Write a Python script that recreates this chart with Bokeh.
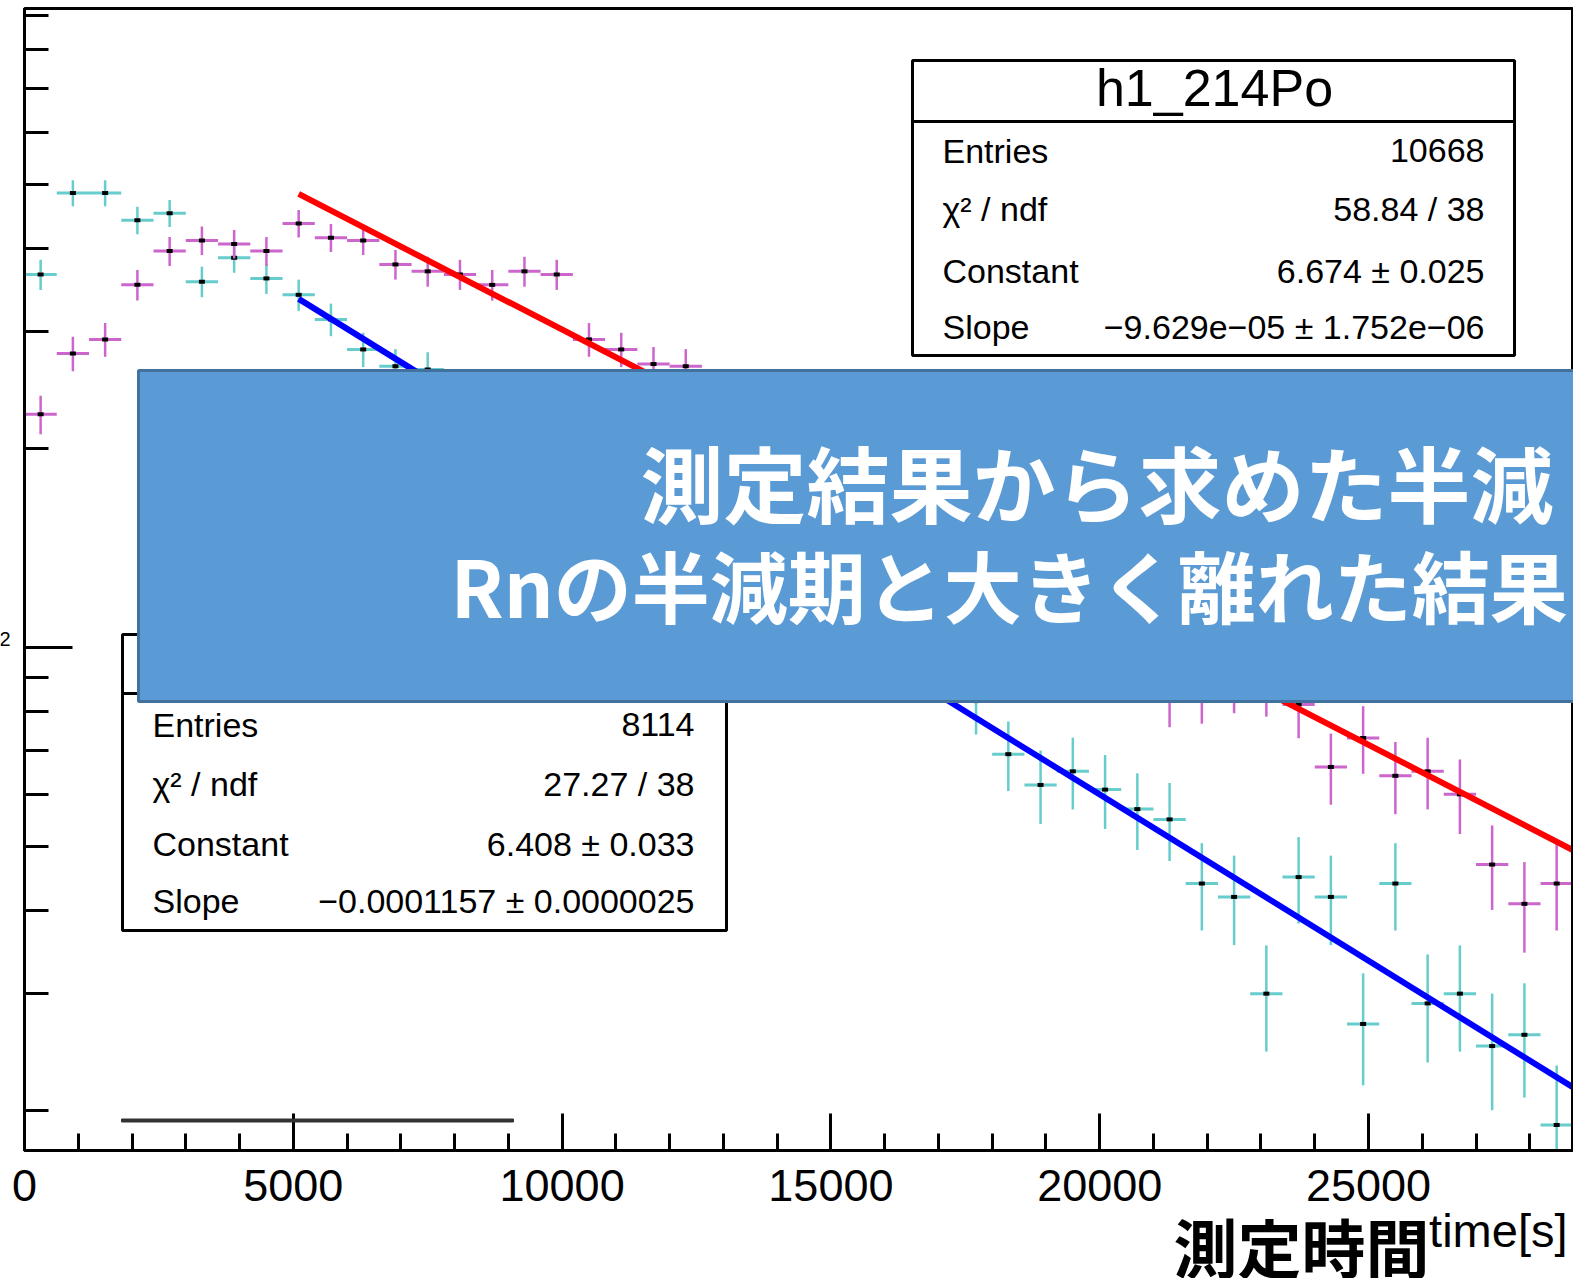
import math
from bokeh.plotting import figure
from bokeh.models import FixedTicker, Label, BoxAnnotation, ColumnDataSource, Range1d
from bokeh.embed import file_html
from bokeh.resources import INLINE

# ---------------- data ----------------
bin_width = 600  # seconds
time_s = [300 + bin_width * i for i in range(48)]

# magenta histogram (h1_214Po)
po214_counts = [225, 278, 292, 353, 397, 412, 407, 397, 437, 416,
                412, 379, 370, 366, 353, 370, 366, 292, 282, 268,
                266, 236, 209, 198, 201, 176, 168, 170, 149, 141,
                139, 121, 118, 109, 103, 85, 86, 89, 88, 82,
                66, 73, 64, 65, 60, 47, 41, 44]
# cyan histogram
po218_counts = [366, 486, 486, 442, 453, 357, 388, 361, 341, 313,
                282, 266, 263, 244, 216, 211, 189, 183, 171, 152,
                149, 133, 131, 120, 112, 108, 104, 99, 96, 83,
                69, 62, 65, 61, 57, 55, 44, 42, 30, 45,
                42, 27, 44, 29, 30, 25, 26, 19]

# exponential fits (end points of the fitted function)
fit_time = [5100, 28800]
po214_fit = [484.3, 49.45]
po218_fit = [336.2, 21.67]

x_ticks = [0, 5000, 10000, 15000, 20000, 25000]
x_minor = [t for t in range(1000, 29000, 1000) if t % 5000]
y_ticks = [100]
y_minor = [20, 30, 40, 50, 60, 70, 80, 90, 200, 300, 400, 500, 600, 700, 800, 900]

stats_labels = ["Entries", "\u03c7\u00b2 / ndf", "Constant", "Slope"]
po214_stats = ["10668", "58.84 / 38", "6.674 \u00b1 0.025", "\u22129.629e\u221205 \u00b1 1.752e\u221206"]
po218_stats = ["8114", "27.27 / 38", "6.408 \u00b1 0.033", "\u22120.0001157 \u00b1 0.0000025"]
po214_title = "h1_214Po"

banner_line1 = "測定結果から求めた半減"
banner_line2 = "Rnの半減期と大きく離れた結果"
x_title = "time[s]"
x_title_jp = "測定時間"
y_label_fragment = "2"

# ---------------- page geometry helpers (page px -> data) ----------------
W, H = 1573, 1278
AX_L, AX_R, AX_T, AX_B = 24, 1572, 8, 1150   # ROOT frame on the page

def sx(px):
    return (px - 24) / 0.05376

def sy(py):
    return 100 * 10 ** ((647 - py) / 662)

LAT_K = 0.37   # baseline correction (fraction of font size) for Latin text
CJK_K = 0.44   # same for the CJK font

# the Bokeh frame covers the whole canvas; the axes sit at fixed locations
p = figure(width=W, height=H, y_axis_type="log",
           x_range=Range1d(sx(0), sx(W)), y_range=Range1d(sy(H), sy(0)),
           output_backend="svg", toolbar_location=None, title=None,
           min_border_left=0, min_border_right=0, min_border_top=0, min_border_bottom=0)
p.background_fill_color = "white"
p.border_fill_color = "white"
p.outline_line_color = None
p.xgrid.visible = False
p.ygrid.visible = False

x_floor, x_ceil = sx(AX_L), sx(AX_R)
y_floor, y_ceil = sy(AX_B), sy(AX_T)

xa = p.xaxis[0]
xa.fixed_location = y_floor
xa.bounds = (x_floor, x_ceil)
xa.ticker = FixedTicker(ticks=x_ticks, minor_ticks=x_minor)
xa.axis_line_width = 3
xa.major_tick_in = 37
xa.major_tick_out = 0
xa.minor_tick_in = 17
xa.minor_tick_out = 0
xa.major_tick_line_width = 3
xa.minor_tick_line_width = 3
xa.major_label_text_font = "Liberation Sans"
xa.major_label_text_font_size = "45px"
xa.major_label_text_color = "black"
xa.major_label_standoff = 19

ya = p.yaxis[0]
ya.fixed_location = x_floor
ya.bounds = (y_floor, y_ceil)
ya.ticker = FixedTicker(ticks=y_ticks, minor_ticks=y_minor)
ya.axis_line_width = 3
ya.major_tick_in = 48
ya.major_tick_out = 0
ya.minor_tick_in = 24
ya.minor_tick_out = 0
ya.major_tick_line_width = 3
ya.minor_tick_line_width = 3
ya.major_label_text_font_size = "8px"
ya.major_label_text_color = None
ya.major_label_standoff = 0


def hist_source(counts):
    err = [math.sqrt(c) for c in counts]
    return ColumnDataSource(dict(
        x=time_s, y=counts,
        x0=[max(t - bin_width / 2, x_floor) for t in time_s],
        x1=[min(t + bin_width / 2, x_ceil) for t in time_s],
        lo=[max(c - e, y_floor) for c, e in zip(counts, err)],
        hi=[min(c + e, y_ceil) for c, e in zip(counts, err)]))


def draw_hist(counts, color):
    src = hist_source(counts)
    p.segment(x0="x0", y0="y", x1="x1", y1="y", source=src, line_color=color, line_width=3)
    p.segment(x0="x", y0="lo", x1="x", y1="hi", source=src, line_color=color, line_width=2.5)
    p.rect(x="x", y="y", width=6, height=4, width_units="screen", height_units="screen",
           source=src, fill_color="black", line_color=None)


draw_hist(po218_counts, "#66cccc")
draw_hist(po214_counts, "#cc66cc")
p.line(fit_time, po218_fit, line_color="#0000ff", line_width=6)
p.line(fit_time, po214_fit, line_color="#ff0000", line_width=6)


def box(l, t, r, b, fill="white", line="black", lw=3, fill_alpha=1.0):
    p.add_layout(BoxAnnotation(left=sx(l), right=sx(r), top=sy(t), bottom=sy(b),
                               fill_color=fill, fill_alpha=fill_alpha, line_color=line,
                               line_alpha=1.0, line_width=lw))


def lab(text, px, py, size, align="left", font="Liberation Sans", color="black",
        style="normal", k=LAT_K):
    p.add_layout(Label(x=sx(px), y=sy(py - k * size), text=text, text_font=font,
                       text_font_size=f"{size}px", text_align=align,
                       text_baseline="alphabetic", text_color=color, text_font_style=style))


# ROOT frame (top and right edges; left/bottom are the axes)
box(AX_L, AX_T, AX_R, AX_B, fill=None, fill_alpha=0.0)

# top-right stats box
box(912, 60, 1514, 121)
box(912, 121, 1514, 355)
lab(po214_title, 1214, 107, 52, align="center")
for lbl, val, base in zip(stats_labels, po214_stats, [163, 221, 283, 339]):
    lab(lbl, 942, base, 34)
    lab(val, 1484, base, 34, align="right")

# bottom-left stats box
box(122, 634, 726, 693)
box(122, 693, 726, 930)
for lbl, val, base in zip(stats_labels, po218_stats, [737, 796, 856, 913]):
    lab(lbl, 152, base, 34)
    lab(val, 694, base, 34, align="right")

# stray grey rule
box(121, 1118.5, 513, 1121.5, fill="#333333", line="#333333", lw=1)

# overlay banner
box(138, 370, 1650, 701, fill="#5b9bd5", line="#41719c", lw=3)
lab(banner_line1, 640, 517, 83, font="Noto Sans CJK JP", color="white", style="bold", k=CJK_K)
lab(banner_line2, 450, 618, 78, font="Noto Sans CJK JP", color="white", style="bold", k=CJK_K)

# axis titles and the cut-off y tick label
lab(x_title, 1567, 1247, 47, align="right")
lab(x_title_jp, 1173, 1273, 64, font="Noto Sans CJK JP", style="bold", k=CJK_K)
lab(y_label_fragment, 10, 646, 20, align="right")

open("out.html", "w").write(file_html(p, INLINE))
